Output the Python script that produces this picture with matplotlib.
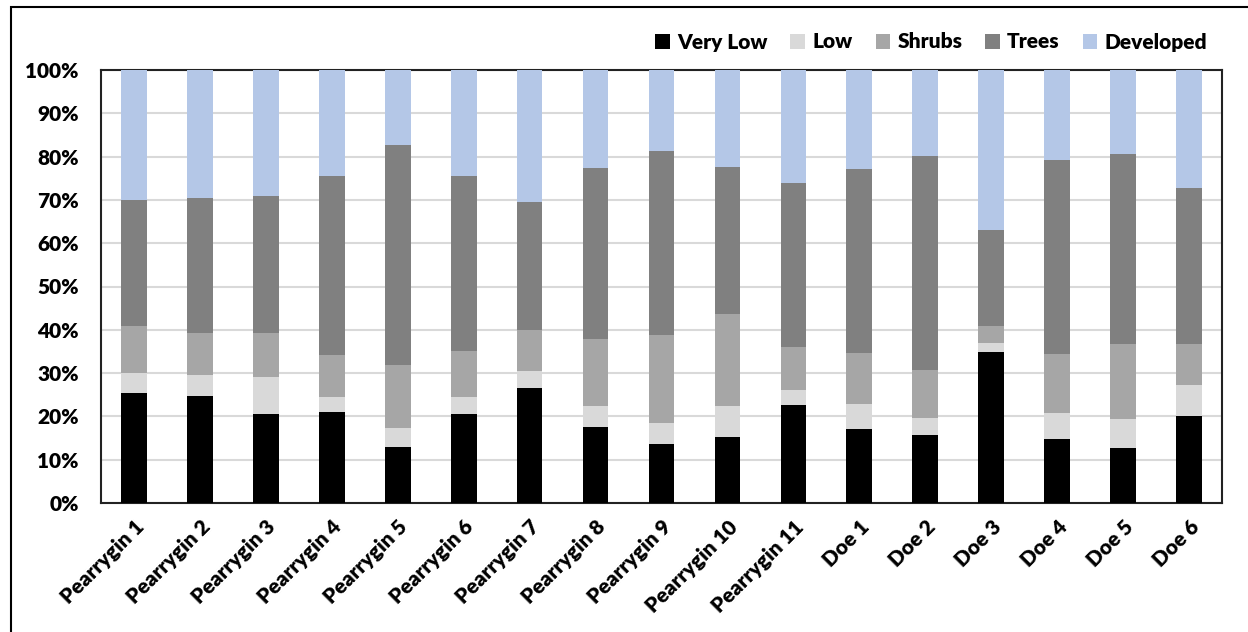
import numpy as np
import matplotlib.pyplot as plt
from matplotlib.patches import Rectangle

plt.rcParams['font.family'] = ['Lato', 'DejaVu Sans']

sites = ["Pearrygin 1", "Pearrygin 2", "Pearrygin 3", "Pearrygin 4", "Pearrygin 5",
         "Pearrygin 6", "Pearrygin 7", "Pearrygin 8", "Pearrygin 9", "Pearrygin 10",
         "Pearrygin 11", "Doe 1", "Doe 2", "Doe 3", "Doe 4", "Doe 5", "Doe 6"]

# cumulative tops (percent)
very_low_top = [25.4, 24.8, 20.5, 21.0, 12.9, 20.5, 26.6, 17.6, 13.7, 15.3, 22.7, 17.0, 15.8, 34.9, 14.7, 12.7, 20.0]
low_top = [30.0, 29.5, 29.0, 24.5, 17.3, 24.4, 30.5, 22.5, 18.4, 22.3, 26.1, 22.8, 19.7, 36.9, 20.7, 19.4, 27.3]
shrubs_top = [40.8, 39.2, 39.3, 34.1, 31.8, 35.2, 39.9, 37.8, 38.9, 43.6, 36.0, 34.7, 30.8, 40.8, 34.3, 36.8, 36.8]
trees_top = [69.9, 70.5, 71.0, 75.5, 82.6, 75.6, 69.4, 77.4, 81.4, 77.6, 73.9, 77.2, 80.1, 63.0, 79.3, 80.5, 72.7]

series = ["Very Low", "Low", "Shrubs", "Trees", "Developed"]
colors = ["#000000", "#d9d9d9", "#a6a6a6", "#808080", "#b4c7e7"]

tops = np.array([very_low_top, low_top, shrubs_top, trees_top, [100.0] * len(sites)])
shares = np.diff(np.vstack([np.zeros(len(sites)), tops]), axis=0)

fig = plt.figure(figsize=(12.48, 6.32), dpi=100)
ax = fig.add_axes([101 / 1248, 1 - 503 / 632, 1121 / 1248, 433 / 632])

x = np.arange(len(sites))
bottom = np.zeros(len(sites))
for name, col, vals in zip(series, colors, shares):
    ax.bar(x, vals, bottom=bottom, width=0.39, color=col, label=name, zorder=3)
    bottom += vals

ax.set_xlim(-0.5, len(sites) - 0.5)
ax.set_ylim(0, 100)
ax.set_yticks(np.arange(0, 101, 10))
ax.set_yticklabels([f"{v}%" for v in range(0, 101, 10)], fontsize=15, fontweight='heavy')
ax.set_xticks(x)
ax.set_xticklabels(sites, rotation=45, ha='right', rotation_mode='anchor',
                   fontsize=15, fontweight='heavy')
ax.tick_params(axis='both', length=0)
ax.tick_params(axis='y', pad=16)
ax.tick_params(axis='x', pad=10)
ax.grid(axis='y', color='#d9d9d9', lw=1.5, zorder=0)
for s in ax.spines.values():
    s.set_color('#222222')
    s.set_linewidth(1.5)

leg = fig.legend(loc='center right', bbox_to_anchor=(1226 / 1248, 1 - 42 / 632), ncol=5,
                 frameon=False, handlelength=0.7, handleheight=0.7, handletextpad=0.35,
                 columnspacing=1.1, prop={'size': 15, 'weight': 'heavy'})

# outer chart frame (cropped on right and bottom)
fig.patches.append(Rectangle((11 / 1248, -0.1), 1.2, 1 - 7 / 632 + 0.1,
                             transform=fig.transFigure, fill=False,
                             edgecolor='black', lw=1.5))

fig.savefig("out.png", dpi=100)
